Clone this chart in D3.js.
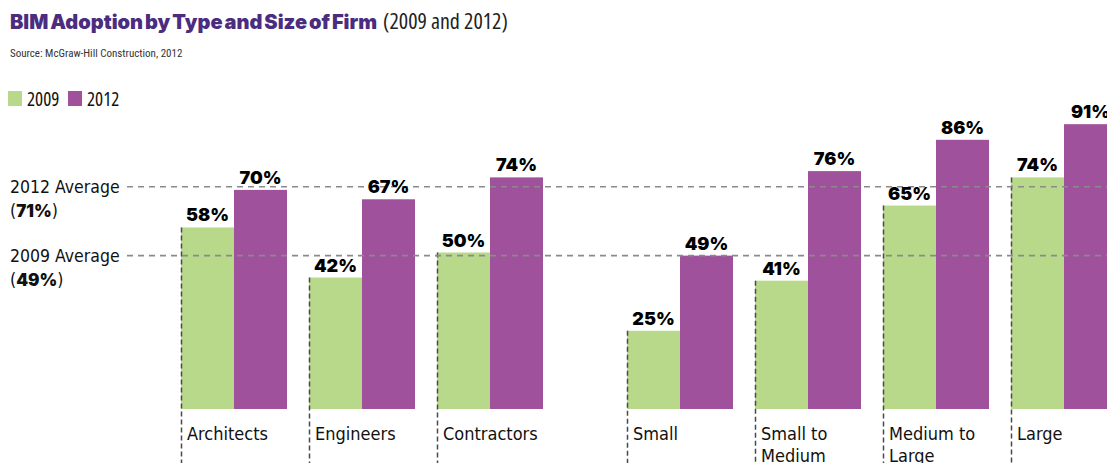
<!DOCTYPE html>
<html>
<head>
<meta charset="utf-8">
<script src="https://cdn.jsdelivr.net/npm/d3@7"></script>
<style>
  html, body { margin: 0; padding: 0; background: #fff; overflow: hidden; }
  svg { display: block; }
  .cond { font-family: "DejaVu Sans Condensed", "Roboto Condensed", sans-serif; }
  .narrow { font-family: "Open Sans", "Roboto Condensed", sans-serif; font-stretch: 75%; }
  .small { font-family: "Roboto Condensed", "DejaVu Sans Condensed", sans-serif; }
  .heavy { font-family: "Inter", "Lato", "Liberation Sans", sans-serif; font-weight: 900; }
</style>
</head>
<body>
<svg id="chart" width="1107" height="463"></svg>
<script>
// Firm types and firm sizes shown as two groups of paired bars
const typeCategories = ["Architects", "Engineers", "Contractors"];
const sizeCategories = ["Small", "Small to Medium", "Medium to Large", "Large"];
const sizeLabelLines = [["Small"], ["Small to", "Medium"], ["Medium to", "Large"], ["Large"]];
const seriesYears = ["2009", "2012"];
const typeValues2009 = [58, 42, 50];
const typeValues2012 = [70, 67, 74];
const sizeValues2009 = [25, 41, 65, 74];
const sizeValues2012 = [49, 76, 86, 91];
const averageYears = ["2012", "2009"];
const averageValues = [71, 49];

const colors = { "2009": "#b8d98a", "2012": "#a0519c" };

const svg = d3.select("#chart");
const width = 1107, height = 463;

// Vertical value scale: 0% sits on the bar baseline
const y = d3.scaleLinear().domain([0, 100]).range([409, 96]);

// Each section gets its own band scale for the groups
const xType = d3.scaleBand().domain(typeCategories).range([181, 543]).paddingInner(22 / 128).paddingOuter(0);
const xSize = d3.scaleBand().domain(sizeCategories).range([627, 1117]).paddingInner(22 / 128).paddingOuter(0);
const xSeries = d3.scaleBand().domain(seriesYears).range([0, xType.bandwidth()]).padding(0);

const groups = [
  ...typeCategories.map((c, i) => ({ x: xType(c), lines: [c], v: { "2009": typeValues2009[i], "2012": typeValues2012[i] } })),
  ...sizeCategories.map((c, i) => ({ x: xSize(c), lines: sizeLabelLines[i], v: { "2009": sizeValues2009[i], "2012": sizeValues2012[i] } }))
];

// Title, source and legend
const title = svg.append("text").attr("x", 10).attr("y", 29);
title.append("tspan").attr("class", "heavy").attr("fill", "#4b2c7f").attr("font-size", 20)
  .attr("word-spacing", -2).text("BIM Adoption by Type and Size of Firm");
title.append("tspan").attr("class", "narrow").attr("fill", "#222").attr("font-size", 22).attr("dx", 6)
  .text("(2009 and 2012)");

svg.append("text").attr("class", "small").attr("x", 10).attr("y", 57).attr("font-size", 11)
  .attr("fill", "#333").text("Source: McGraw-Hill Construction, 2012");

const legend = svg.append("g");
seriesYears.forEach((s, i) => {
  const lx = 8 + i * 60;
  legend.append("rect").attr("x", lx).attr("y", 91).attr("width", 14).attr("height", 15).attr("fill", colors[s]);
  legend.append("text").attr("class", "narrow").attr("x", lx + 19).attr("y", 106).attr("font-size", 19)
    .attr("fill", "#111").text(s);
});

// Bars
const barG = svg.append("g");
groups.forEach(g => {
  seriesYears.forEach(s => {
    barG.append("rect")
      .attr("x", g.x + xSeries(s))
      .attr("y", y(g.v[s]))
      .attr("width", xSeries.bandwidth())
      .attr("height", y(0) - y(g.v[s]))
      .attr("fill", colors[s]);
  });
});

// Dashed leader at the left edge of every group, from the first bar down past the label
groups.forEach(g => {
  svg.append("line")
    .attr("x1", g.x + 0.5).attr("x2", g.x + 0.5)
    .attr("y1", y(g.v["2009"])).attr("y2", height)
    .attr("stroke", "#4a4a4a").attr("stroke-width", 1.5).attr("stroke-dasharray", "5,3");
});

// Average reference lines
averageValues.forEach((v, i) => {
  svg.append("line")
    .attr("x1", 127).attr("x2", width)
    .attr("y1", y(v)).attr("y2", y(v))
    .attr("stroke", "#8a8a8a").attr("stroke-width", 1.6).attr("stroke-dasharray", "6,5");
  const t = svg.append("text").attr("class", "cond").attr("x", 10).attr("font-size", 17.5).attr("fill", "#111");
  t.append("tspan").attr("x", 10).attr("y", y(v) + 6).text(`${averageYears[i]} Average`);
  const t2 = t.append("tspan").attr("x", 10).attr("y", y(v) + 30);
  t2.append("tspan").text("(");
  t2.append("tspan").attr("class", "heavy").attr("font-size", 17).text(`${v}%`);
  t2.append("tspan").text(")");
});

// Value labels
groups.forEach(g => {
  seriesYears.forEach(s => {
    svg.append("text").attr("class", "heavy")
      .attr("x", g.x + xSeries(s) + xSeries.bandwidth() / 2)
      .attr("y", y(g.v[s]) - 6)
      .attr("text-anchor", "middle").attr("font-size", 18).attr("fill", "#000")
      .text(`${g.v[s]}%`);
  });
});

// Category labels
groups.forEach(g => {
  const t = svg.append("text").attr("class", "cond").attr("font-size", 18).attr("fill", "#111");
  g.lines.forEach((line, k) => {
    t.append("tspan").attr("x", g.x + 6).attr("y", 440 + k * 22).text(line);
  });
});
</script>
</body>
</html>
